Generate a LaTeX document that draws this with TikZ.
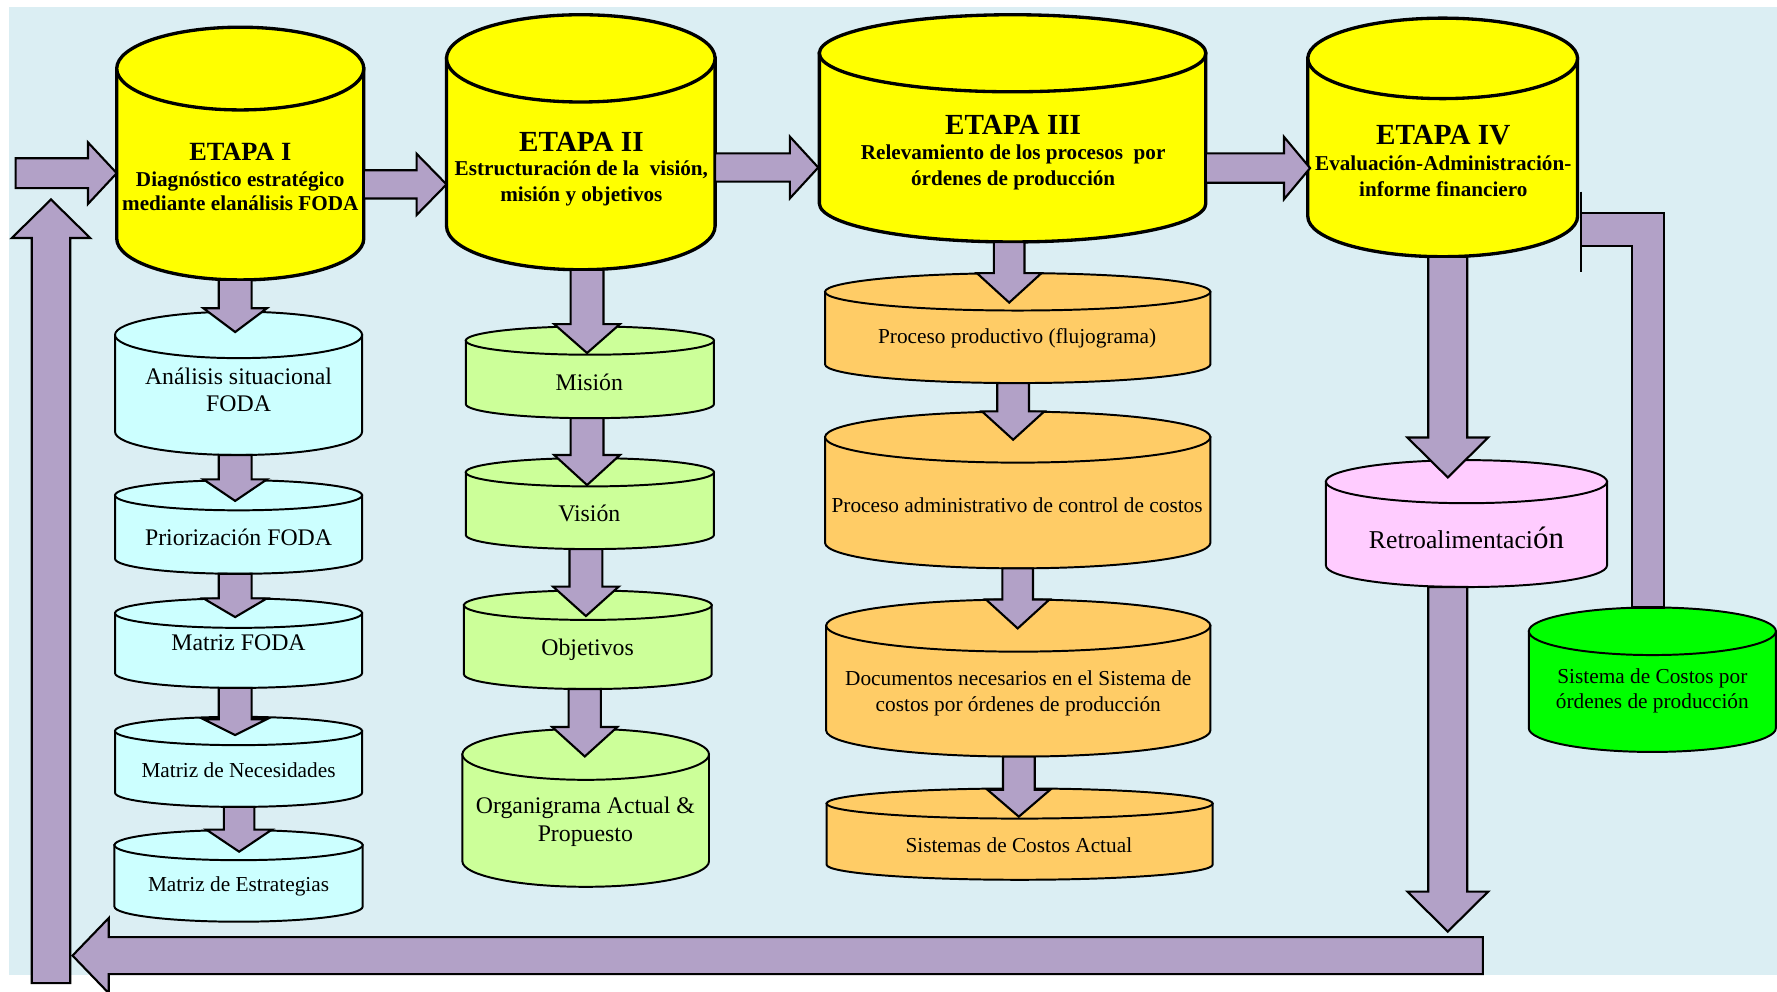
\documentclass[tikz,border=0pt]{standalone}
\usepackage{fontspec}
\setmainfont{Liberation Serif}
\usetikzlibrary{calc}

\definecolor{bgblue}{RGB}{219,238,243}
\definecolor{flowpurple}{RGB}{178,161,199}
\definecolor{etapayellow}{RGB}{255,255,0}
\definecolor{fodacyan}{RGB}{204,255,255}
\definecolor{misiongreen}{RGB}{204,255,153}
\definecolor{procorange}{RGB}{255,204,102}
\definecolor{retropink}{RGB}{255,204,255}
\definecolor{costgreen}{RGB}{0,255,0}

\tikzstyle{etapa} = [draw=black, line width=2.2pt, fill=etapayellow]
\tikzstyle{can} = [draw=black, line width=1.3pt]
\tikzstyle{flow} = [draw=black, line width=1.4pt, fill=flowpurple]
\tikzstyle{ttl} = [inner sep=0pt, font=\bfseries\fontsize{19.3}{22}\selectfont]
\tikzstyle{sub} = [inner sep=0pt, align=center, font=\bfseries\fontsize{14}{17.25}\selectfont]
\tikzstyle{lbl} = [inner sep=0pt, align=center, font=\fontsize{15.75}{17.6}\selectfont]
\tikzstyle{lbs} = [inner sep=0pt, align=center, font=\fontsize{14.1}{17.7}\selectfont]

% can: name, style, centre x, top centre y, bottom centre y, x radius, y radius
\newcommand{\drawcan}[7]{%
  \filldraw[#2] (#3-#6,#4) -- (#3-#6,#5) arc[start angle=180,end angle=0,x radius=#6,y radius=#7] -- (#3+#6,#4) -- cycle;
  \filldraw[#2] (#3,#4) ellipse [x radius=#6,y radius=#7];
  \coordinate (#1-s) at (#3,#5+#7);
  \coordinate (#1-n) at (#3,#4-#7);
  \coordinate (#1-e) at (#3+#6,#4);
}
% block arrows: from, tip, shaft half width, head half width, head length
\newcommand{\fatdown}[5]{%
  \filldraw[flow] ($(#2|-#1)+(-#3,0)$) -- ($(#2)+(-#3,-#5)$) -- ($(#2)+(-#4,-#5)$) -- (#2) -- ($(#2)+(#4,-#5)$) -- ($(#2)+(#3,-#5)$) -- ($(#2|-#1)+(#3,0)$) -- cycle;}
\newcommand{\fatup}[5]{%
  \filldraw[flow] ($(#2|-#1)+(-#3,0)$) -- ($(#2)+(-#3,#5)$) -- ($(#2)+(-#4,#5)$) -- (#2) -- ($(#2)+(#4,#5)$) -- ($(#2)+(#3,#5)$) -- ($(#2|-#1)+(#3,0)$) -- cycle;}
\newcommand{\fatright}[5]{%
  \filldraw[flow] ($(#1|-#2)+(0,-#3)$) -- ($(#2)+(-#5,-#3)$) -- ($(#2)+(-#5,-#4)$) -- (#2) -- ($(#2)+(-#5,#4)$) -- ($(#2)+(-#5,#3)$) -- ($(#1|-#2)+(0,#3)$) -- cycle;}
\newcommand{\fatleft}[5]{%
  \filldraw[flow] ($(#1|-#2)+(0,-#3)$) -- ($(#2)+(#5,-#3)$) -- ($(#2)+(#5,-#4)$) -- (#2) -- ($(#2)+(#5,#4)$) -- ($(#2)+(#5,#3)$) -- ($(#1|-#2)+(0,#3)$) -- cycle;}

\begin{document}
\begin{tikzpicture}[x=0.75pt,y=0.75pt,yscale=-1,xscale=1]
\useasboundingbox (0,0) rectangle (1568,875);

%Shape: Rectangle (background)
\fill[bgblue] (8,6) rectangle (1568,860);

%Shape: Can (etapas)
\drawcan{e1}{etapa}{212}{60.5}{210.5}{109}{36.5}
\drawcan{e2}{etapa}{512.5}{51.5}{199.5}{118.5}{38.5}
\drawcan{e3}{etapa}{893.5}{47}{179.5}{170.5}{34}
\drawcan{e4}{etapa}{1273}{51.5}{191}{119}{35.5}

% Text Node
\node[ttl, font=\bfseries\fontsize{17.4}{20}\selectfont] (e1-t) at (212,134) {ETAPA I};
\node[sub, font=\bfseries\fontsize{14}{16.1}\selectfont] (e1) at (212,168.5) {Diagnóstico estratégico\\mediante elanálisis FODA};
% Text Node
\node[ttl] (e2-t) at (513,125) {ETAPA II};
\node[sub] (e2) at (513,161.5) {Estructuración de la~ visión,\\misión y objetivos};
% Text Node
\node[ttl] (e3-t) at (894,110) {ETAPA III};
\node[sub] (e3) at (894,147.5) {Relevamiento de los procesos~ por\\órdenes de producción};
% Text Node
\node[ttl] (e4-t) at (1273.5,119) {ETAPA IV};
\node[sub] (e4) at (1273.5,155.5) {Evaluación-Administración-\\informe financiero};

%Shape: Can (FODA column)
\drawcan{c1}{can, fill=fodacyan}{210.5}{295.5}{381}{109}{20.5}
\drawcan{c2}{can, fill=fodacyan}{210.5}{437}{493}{109}{13.3}
\drawcan{c3}{can, fill=fodacyan}{210.5}{541}{594}{109}{13}
\drawcan{c4}{can, fill=fodacyan}{210.5}{645}{699.5}{109}{12.5}
\drawcan{c5}{can, fill=fodacyan}{210.5}{745.7}{800}{109.5}{13.3}

% Text Node
\node[lbl] (c1) at (210.5,344) {Análisis situacional\\FODA};
\node[lbl] (c2) at (210.5,474) {Priorización FODA};
\node[lbl] (c3) at (210.5,567.5) {Matriz FODA};
\node[lbs] (c4) at (210.5,679.5) {Matriz de Necesidades};
\node[lbs] (c5) at (210.5,782) {Matriz de Estrategias};

%Shape: Can (mision column)
\drawcan{g1}{can, fill=misiongreen}{520.5}{300.5}{356.5}{109.5}{12.5}
\drawcan{g2}{can, fill=misiongreen}{520.5}{416.7}{472}{109.5}{12.5}
\drawcan{g3}{can, fill=misiongreen}{518.7}{534}{595}{109.3}{13}
\drawcan{g4}{can, fill=misiongreen}{516.8}{665.6}{760}{108.8}{22.5}

% Text Node
\node[lbl] (g1) at (520,337) {Misión};
\node[lbl] (g2) at (520,453) {Visión};
\node[lbl] (g3) at (518.5,573.3) {Objetivos};
\node[lbl, font=\fontsize{15.75}{18.3}\selectfont] (g4) at (516.5,725) {Organigrama Actual \&\\Propuesto};

%Shape: Can (procesos column)
\drawcan{o1}{can, fill=procorange}{898}{257.5}{321.5}{170}{16.5}
\drawcan{o2}{can, fill=procorange}{898}{385.7}{479}{170}{22.5}
\drawcan{o3}{can, fill=procorange}{898.5}{552}{644.6}{169.5}{23}
\drawcan{o4}{can, fill=procorange}{899.7}{709}{763}{170.3}{13.3}

% Text Node
\node[lbs] (o1) at (897.5,298.5) {Proceso productivo (flujograma)};
\node[lbs] (o2) at (897.5,445.6) {Proceso administrativo de control de costos};
\node[lbs] (o3) at (898.5,611.8) {Documentos necesarios en el Sistema de\\costos por órdenes de producción};
\node[lbs] (o4) at (899,745.6) {Sistemas de Costos Actual};

%Shape: Can (retroalimentacion, sistema)
\drawcan{r1}{can, fill=retropink}{1294}{425}{499}{124}{19}
\drawcan{s1}{can, fill=costgreen}{1458}{557}{642.5}{109}{21}

% Text Node
\node[lbl, font=\fontsize{17}{20}\selectfont] (r1) at (1294,474.6) {Retroalimentaci{\fontsize{20.5}{24}\selectfont ón}};
\node[lbs, font=\fontsize{14.1}{16.5}\selectfont] (s1) at (1458,610) {Sistema de Costos por\\órdenes de producción};

%Right Arrows (etapas)
\coordinate (start) at (13.8,152.8);
\coordinate (e1-in) at (103,152.8);
\coordinate (e2-in) at (394,162.7);
\coordinate (e3-in) at (722,147.8);
\coordinate (e4-in) at (1156,148.3);
\fatright{start}{e1-in}{13.2}{27.2}{25.4}
\fatright{e1-e}{e2-in}{12.5}{27}{26.4}
\fatright{e2-e}{e3-in}{12.5}{27.2}{25}
\fatright{e3-e}{e4-in}{13}{27.5}{23}

%Down Arrows (FODA column)
\coordinate (c1-in) at (207.5,293);
\coordinate (c2-in) at (207.5,442);
\coordinate (c3-in) at (207.5,544.5);
\coordinate (c4-in) at (207.5,648.6);
\coordinate (c5-in) at (211,751.5);
\fatdown{e1-s}{c1-in}{14.5}{28}{21}
\fatdown{c1-s}{c2-in}{14.5}{28}{19}
\fatdown{c2-s}{c3-in}{14.5}{28}{16.5}
\fatdown{c3-s}{c4-in}{14.5}{28}{14}
\fatdown{c4-s}{c5-in}{13.5}{29}{19.5}

%Down Arrows (mision column)
\coordinate (g1-in) at (518,311.5);
\coordinate (g2-in) at (518,428);
\coordinate (g3-in) at (517,543.6);
\coordinate (g4-in) at (516,667.5);
\fatdown{e2-s}{g1-in}{14.5}{29}{25.5}
\fatdown{g1-s}{g2-in}{14.5}{29}{26.5}
\fatdown{g2-s}{g3-in}{14.5}{29}{26}
\fatdown{g3-s}{g4-in}{14.2}{28.7}{26}

%Down Arrows (procesos column)
\coordinate (o1-in) at (890.5,267);
\coordinate (o2-in) at (894,388);
\coordinate (o3-in) at (898,554.5);
\coordinate (o4-in) at (899,720.6);
\fatdown{e3-s}{o1-in}{13.5}{28.5}{26}
\fatdown{o1-s}{o2-in}{14}{27.5}{25}
\fatdown{o2-s}{o3-in}{13.5}{28}{25.5}
\fatdown{o3-s}{o4-in}{14}{27.5}{23.6}

%Feedback loop
\coordinate (r1-in) at (1277.5,421.3);
\coordinate (r1-out) at (1277.5,822);
\fatdown{e4-s}{r1-in}{17.2}{35.7}{35.3}
\fatdown{r1-s}{r1-out}{17.2}{35.7}{35.3}
\coordinate (bar-end) at (1308.5,843.2);
\coordinate (bar-tip) at (64,843.2);
\coordinate (loop-end) at (45,867.5);
\coordinate (loop-tip) at (45,176);
\fatup{loop-end}{loop-tip}{17}{34.6}{34}
\fatleft{bar-end}{bar-tip}{16.3}{33.2}{32}

%Elbow from sistema de costos to etapa IV
\coordinate (fb) at (1395,202.5);
\filldraw[flow] ($(s1-n)+(-18,0)$) |- ($(fb)+(0,14.5)$) -- ($(fb)+(0,-14.5)$) -| ($(s1-n)+(10,0)$) -- cycle;
\draw[line width=1.4pt] ($(fb)+(0,-33.5)$) -- ($(fb)+(0,37.5)$);

\end{tikzpicture}
\end{document}
